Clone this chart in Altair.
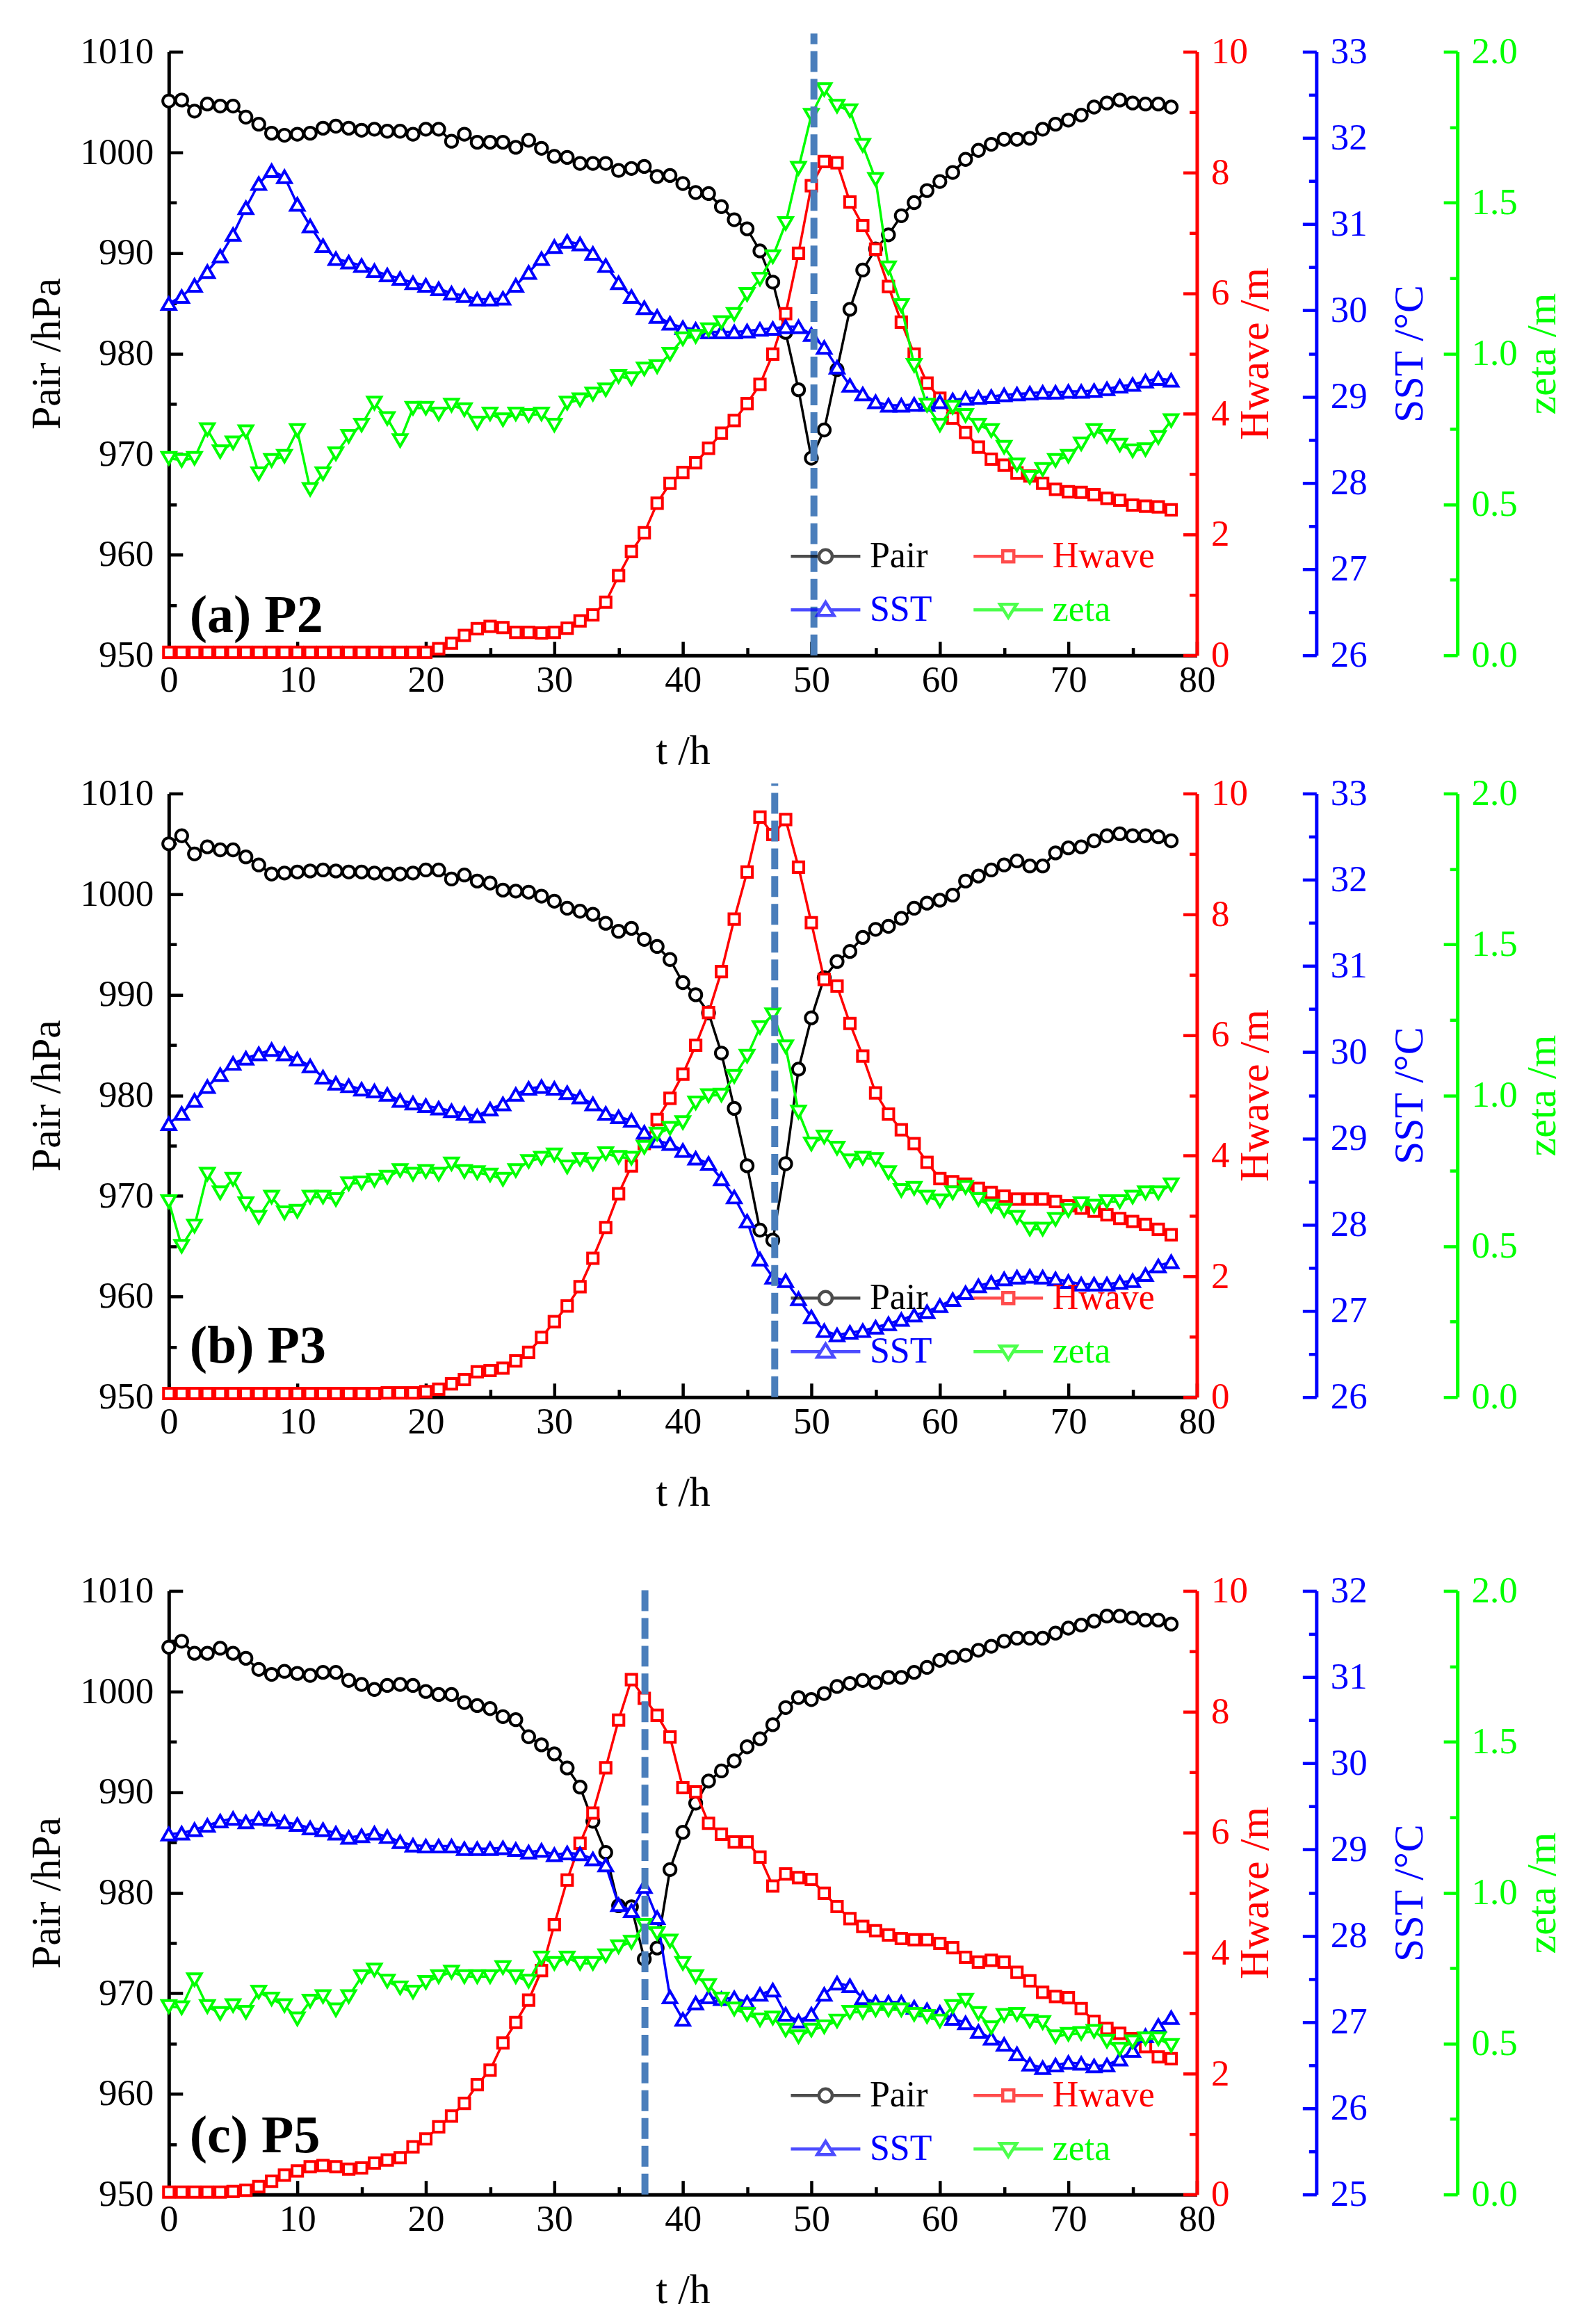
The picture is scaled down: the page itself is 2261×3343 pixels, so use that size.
import altair as alt
import pandas as pd

T = list(range(79))

A_PAIR = [1005.1, 1005.2, 1004.1, 1004.8, 1004.6, 1004.6, 1003.5, 1002.8, 1001.9, 1001.7,
          1001.8, 1001.9, 1002.4, 1002.6, 1002.4, 1002.2, 1002.3, 1002.1, 1002.1, 1001.8,
          1002.3, 1002.3, 1001.1, 1001.8, 1001.0, 1001.0, 1001.0, 1000.5, 1001.2, 1000.4,
          999.6, 999.5, 998.9, 998.9, 998.9, 998.2, 998.4, 998.6, 997.6, 997.7,
          996.9, 996.0, 995.9, 994.6, 993.3, 992.4, 990.2, 987.1, 982.1, 976.4,
          969.6, 972.4, 978.4, 984.4, 988.3, 990.4, 991.8, 993.7, 995.0, 996.2,
          997.1, 998.0, 999.3, 1000.2, 1000.8, 1001.3, 1001.3, 1001.4, 1002.3, 1002.8,
          1003.2, 1003.7, 1004.5, 1004.9, 1005.2, 1004.9, 1004.8, 1004.8, 1004.5]
A_HWAVE = [0.05] * 21 + [0.11, 0.20, 0.33, 0.44, 0.48, 0.46, 0.38, 0.38, 0.37,
          0.38, 0.45, 0.57, 0.67, 0.88, 1.32, 1.72, 2.03, 2.52, 2.85,
          3.03, 3.19, 3.43, 3.68, 3.89, 4.17, 4.49, 4.99, 5.66, 6.66,
          7.78, 8.18, 8.16, 7.51, 7.12, 6.73, 6.11, 5.52, 4.99, 4.51,
          4.26, 3.93, 3.69, 3.45, 3.25, 3.15, 3.02, 2.97, 2.85, 2.75,
          2.71, 2.70, 2.66, 2.60, 2.57, 2.49, 2.47, 2.46, 2.41]
A_SST = [30.08, 30.16, 30.29, 30.45, 30.63, 30.88, 31.19, 31.47, 31.62, 31.55,
         31.23, 30.98, 30.75, 30.60, 30.56, 30.52, 30.46, 30.41, 30.37, 30.32,
         30.29, 30.25, 30.20, 30.17, 30.13, 30.13, 30.14, 30.29, 30.44, 30.60,
         30.74, 30.80, 30.77, 30.66, 30.52, 30.32, 30.16, 30.03, 29.93, 29.85,
         29.80, 29.78, 29.75, 29.75, 29.75, 29.76, 29.78, 29.79, 29.81, 29.81,
         29.72, 29.57, 29.34, 29.13, 29.03, 28.94, 28.90, 28.90, 28.91, 28.91,
         28.94, 28.96, 28.98, 28.99, 29.00, 29.02, 29.03, 29.04, 29.05, 29.05,
         29.06, 29.06, 29.07, 29.09, 29.12, 29.14, 29.18, 29.21, 29.19]
A_ZETA = [0.653, 0.646, 0.653, 0.748, 0.675, 0.704, 0.741, 0.602, 0.646, 0.660,
          0.745, 0.550, 0.602, 0.668, 0.726, 0.763, 0.836, 0.785, 0.712, 0.819,
          0.819, 0.800, 0.829, 0.814, 0.770, 0.800, 0.781, 0.800, 0.795, 0.800,
          0.763, 0.836, 0.847, 0.866, 0.880, 0.924, 0.917, 0.949, 0.957, 0.998,
          1.049, 1.057, 1.079, 1.103, 1.130, 1.196, 1.247, 1.321, 1.431, 1.614,
          1.790, 1.875, 1.820, 1.805, 1.690, 1.577, 1.284, 1.159, 0.961, 0.829,
          0.763, 0.822, 0.795, 0.763, 0.745, 0.690, 0.631, 0.590, 0.616, 0.646,
          0.660, 0.701, 0.745, 0.726, 0.697, 0.678, 0.682, 0.722, 0.778]

B_PAIR = [1005.0, 1005.8, 1004.0, 1004.7, 1004.4, 1004.4, 1003.7, 1002.9, 1002.0, 1002.1,
          1002.2, 1002.3, 1002.4, 1002.3, 1002.2, 1002.2, 1002.1, 1002.0, 1002.0, 1002.1,
          1002.4, 1002.4, 1001.5, 1001.9, 1001.3, 1001.1, 1000.4, 1000.3, 1000.2, 999.8,
          999.3, 998.6, 998.3, 998.0, 997.1, 996.3, 996.6, 995.5, 994.8, 993.5,
          991.2, 990.0, 988.2, 984.2, 978.7, 973.0, 966.6, 965.6, 973.2, 982.6,
          987.7, 991.7, 993.3, 994.3, 995.7, 996.5, 996.8, 997.6, 998.6, 999.1,
          999.4, 999.9, 1001.3, 1001.8, 1002.4, 1002.9, 1003.3, 1002.8, 1002.8, 1004.1,
          1004.6, 1004.7, 1005.3, 1005.8, 1006.0, 1005.8, 1005.8, 1005.7, 1005.3]
B_HWAVE = [0.06] * 17 + [0.07, 0.07, 0.07,
          0.09, 0.13, 0.22, 0.29, 0.42, 0.44, 0.48, 0.60, 0.74, 0.99,
          1.25, 1.51, 1.83, 2.30, 2.81, 3.37, 3.83, 4.20, 4.60, 4.95,
          5.35, 5.83, 6.37, 7.05, 7.92, 8.70, 9.61, 9.32, 9.57, 8.78,
          7.86, 6.92, 6.81, 6.19, 5.65, 5.04, 4.69, 4.43, 4.20, 3.89,
          3.62, 3.57, 3.53, 3.46, 3.39, 3.33, 3.28, 3.28, 3.28, 3.24,
          3.17, 3.13, 3.08, 3.02, 2.96, 2.91, 2.86, 2.78, 2.69]
B_SST = [29.17, 29.29, 29.44, 29.60, 29.74, 29.87, 29.93, 29.98, 30.03, 29.98,
         29.92, 29.84, 29.71, 29.64, 29.61, 29.57, 29.55, 29.51, 29.44, 29.41,
         29.38, 29.35, 29.32, 29.29, 29.26, 29.34, 29.40, 29.51, 29.58, 29.60,
         29.58, 29.53, 29.48, 29.40, 29.29, 29.25, 29.21, 29.07, 28.97, 28.94,
         28.86, 28.77, 28.71, 28.53, 28.32, 28.04, 27.60, 27.39, 27.35, 27.14,
         26.93, 26.77, 26.72, 26.75, 26.77, 26.81, 26.85, 26.90, 26.95, 26.99,
         27.06, 27.13, 27.21, 27.29, 27.33, 27.37, 27.39, 27.40, 27.39, 27.37,
         27.34, 27.31, 27.31, 27.31, 27.33, 27.35, 27.42, 27.52, 27.57]
B_ZETA = [0.648, 0.500, 0.567, 0.739, 0.677, 0.722, 0.641, 0.596, 0.663, 0.611,
          0.616, 0.663, 0.663, 0.655, 0.707, 0.710, 0.719, 0.729, 0.751, 0.739,
          0.748, 0.739, 0.773, 0.748, 0.744, 0.736, 0.722, 0.751, 0.781, 0.792,
          0.803, 0.763, 0.788, 0.773, 0.807, 0.795, 0.792, 0.828, 0.872, 0.891,
          0.910, 0.975, 0.999, 1.001, 1.063, 1.130, 1.225, 1.267, 1.161, 0.945,
          0.839, 0.862, 0.825, 0.783, 0.792, 0.788, 0.744, 0.685, 0.692, 0.663,
          0.651, 0.677, 0.695, 0.655, 0.633, 0.619, 0.596, 0.557, 0.557, 0.589,
          0.619, 0.641, 0.633, 0.648, 0.648, 0.663, 0.677, 0.677, 0.704]

C_PAIR = [1004.4, 1005.0, 1003.8, 1003.8, 1004.3, 1003.8, 1003.3, 1002.2, 1001.7, 1002.0,
          1001.8, 1001.6, 1001.9, 1001.9, 1001.1, 1000.7, 1000.2, 1000.6, 1000.7, 1000.6,
          1000.0, 999.7, 999.7, 998.9, 998.6, 998.3, 997.5, 997.2, 995.5, 994.7,
          993.8, 992.4, 990.5, 987.1, 984.0, 978.7, 978.6, 973.4, 974.5, 982.3,
          986.0, 988.9, 991.1, 992.1, 993.1, 994.5, 995.3, 996.7, 998.4, 999.4,
          999.2, 999.8, 1000.5, 1000.8, 1001.1, 1000.9, 1001.4, 1001.4, 1001.9, 1002.4,
          1003.1, 1003.4, 1003.6, 1004.1, 1004.5, 1005.0, 1005.3, 1005.3, 1005.3, 1005.8,
          1006.3, 1006.6, 1007.0, 1007.5, 1007.5, 1007.3, 1007.1, 1007.1, 1006.7]
C_HWAVE = [0.04] * 5 + [0.05, 0.07, 0.13, 0.22, 0.32,
          0.39, 0.46, 0.48, 0.46, 0.42, 0.44, 0.52, 0.57, 0.61, 0.79,
          0.92, 1.12, 1.30, 1.51, 1.82, 2.06, 2.51, 2.85, 3.22, 3.71,
          4.47, 5.21, 5.82, 6.32, 7.07, 7.86, 8.53, 8.22, 7.94, 7.58,
          6.74, 6.67, 6.15, 5.97, 5.84, 5.84, 5.59, 5.11, 5.31, 5.25,
          5.22, 4.99, 4.77, 4.57, 4.44, 4.37, 4.30, 4.24, 4.22, 4.22,
          4.16, 4.09, 3.93, 3.85, 3.88, 3.85, 3.68, 3.54, 3.35, 3.28,
          3.26, 3.08, 2.87, 2.75, 2.67, 2.58, 2.45, 2.28, 2.25]
C_SST = [29.18, 29.19, 29.23, 29.28, 29.33, 29.36, 29.32, 29.36, 29.35, 29.32,
         29.29, 29.25, 29.23, 29.19, 29.14, 29.16, 29.19, 29.15, 29.09, 29.05,
         29.04, 29.04, 29.04, 29.01, 29.01, 29.01, 29.02, 29.00, 28.97, 28.99,
         28.94, 28.96, 28.95, 28.89, 28.82, 28.36, 28.29, 28.57, 28.21, 27.29,
         27.03, 27.22, 27.29, 27.27, 27.28, 27.23, 27.32, 27.37, 27.09, 27.01,
         27.09, 27.32, 27.45, 27.42, 27.28, 27.23, 27.23, 27.23, 27.17, 27.14,
         27.11, 27.04, 26.99, 26.89, 26.81, 26.74, 26.63, 26.51, 26.47, 26.50,
         26.53, 26.52, 26.49, 26.50, 26.57, 26.67, 26.84, 26.96, 27.05]
C_ZETA = [0.623, 0.619, 0.712, 0.623, 0.600, 0.626, 0.604, 0.671, 0.648, 0.626,
          0.582, 0.641, 0.656, 0.612, 0.656, 0.722, 0.744, 0.707, 0.685, 0.671,
          0.703, 0.722, 0.737, 0.722, 0.722, 0.722, 0.752, 0.722, 0.707, 0.784,
          0.766, 0.784, 0.766, 0.766, 0.791, 0.821, 0.836, 0.892, 0.865, 0.840,
          0.766, 0.722, 0.693, 0.648, 0.615, 0.597, 0.579, 0.585, 0.545, 0.523,
          0.545, 0.556, 0.575, 0.604, 0.604, 0.612, 0.612, 0.612, 0.597, 0.590,
          0.575, 0.623, 0.644, 0.600, 0.553, 0.594, 0.597, 0.575, 0.570, 0.523,
          0.531, 0.534, 0.541, 0.508, 0.482, 0.506, 0.516, 0.516, 0.494]

# storm passage time (dashed line) and its top end on the Pair scale
PASS_T = [50.2, 47.15, 37.05]
PASS_TOP = [1011.8, 1011.0, 1010.7]
PANEL_LABELS = ["(a) P2", "(b) P3", "(c) P5"]
LABEL_OFFSETS = [-262, -278, -289]
SST_RANGES = [[26, 33], [26, 33], [25, 32]]

NAMES = ["Pair", "Hwave", "SST", "zeta"]
COLORS = ["#000000", "#ff0000", "#0000ff", "#00ff00"]
LEGEND_SHAPES = [
    "M-1,0L-0.19,0M0.19,0L1,0M-0.19,0A0.19,0.19,0,1,1,0.19,0A0.19,0.19,0,1,1,-0.19,0Z",
    "M-1,0L-0.16,0M0.16,0L1,0M-0.16,-0.16L0.16,-0.16L0.16,0.16L-0.16,0.16Z",
    "M-1,0L-0.15,0M0.15,0L1,0M-0.24,0.16L0,-0.22L0.24,0.16Z",
    "M-1,0L-0.15,0M0.15,0L1,0M-0.24,-0.16L0,0.22L0.24,-0.16Z",
]

FONT = "Liberation Serif"
W, H = 1480, 869


def make_axis(title, color, values, major, fmt, orient, offset=0,
              title_x=0, title_y=0, title_angle=0, label_pad=40):
    test = f"abs(datum.value / {major} - round(datum.value / {major})) < 1e-6"
    return alt.Axis(
        title=title, orient=orient, offset=offset, values=values, format=fmt,
        labelExpr=f"{test} ? datum.label : ''",
        tickSize={"expr": f"{test} ? -20 : -11"},
        tickWidth=4.5, tickColor=color, domainColor=color, domainWidth=5,
        labelColor=color, titleColor=color,
        labelFont=FONT, labelFontSize=53, titleFont=FONT, titleFontSize=60,
        titleFontWeight="normal", labelPadding=label_pad, labelFlush=False,
        labelOverlap=False, grid=False,
        titleX=title_x, titleY=title_y, titleAngle=title_angle,
        titleBaseline="middle", titleAlign="center",
    )


def panel(i, pair, hwave, sst, zeta):
    df = pd.DataFrame({"t": T, "Pair": pair, "Hwave": hwave, "SST": sst, "zeta": zeta})
    xaxis = make_axis("t /h", "black", [5 * k for k in range(17)], 10, ".0f", "bottom",
                      title_x=W / 2, title_y=138, label_pad=30)
    x = alt.X("t:Q", scale=alt.Scale(domain=[0, 80], nice=False), axis=xaxis)
    lo, hi = SST_RANGES[i]
    axes = {
        "Pair": make_axis("Pair /hPa", "black", [950 + 5 * k for k in range(13)], 10, ".0f",
                          "left", title_x=-175, title_y=H / 2, title_angle=270, label_pad=42),
        "Hwave": make_axis("Hwave /m", "#ff0000", list(range(11)), 2, ".0f", "right",
                           title_x=84, title_y=H / 2, title_angle=270, label_pad=40),
        "SST": make_axis("SST /\u00b0C", "#0000ff", [lo + 0.5 * k for k in range(15)], 1, ".0f",
                         "right", offset=172, title_x=134, title_y=H / 2, title_angle=270,
                         label_pad=40),
        "zeta": make_axis("zeta /m", "#00ff00", [0.25 * k for k in range(9)], 0.5, ".1f",
                          "right", offset=375, title_x=122, title_y=H / 2, title_angle=270,
                          label_pad=40),
    }
    domains = {"Pair": [950, 1010], "Hwave": [0, 10], "SST": [lo, hi], "zeta": [0, 2]}
    shapes = {"Pair": ("circle", 300), "Hwave": ("square", 230),
              "SST": ("triangle-up", 380), "zeta": ("triangle-down", 380)}
    base = alt.Chart(df)
    layers = []
    for name, color in zip(NAMES, COLORS):
        shp, sz = shapes[name]
        layers.append(
            base.mark_line(
                color=color, strokeWidth=3.5,
                point=alt.OverlayMarkDef(shape=shp, size=sz, filled=True, fill="white",
                                         stroke=color, strokeWidth=4),
            ).encode(
                x=x,
                y=alt.Y(f"{name}:Q",
                        scale=alt.Scale(domain=domains[name], nice=False, zero=False),
                        axis=axes[name]),
            )
        )
    rule_df = pd.DataFrame({"t": [PASS_T[i]], "lo": [950], "hi": [PASS_TOP[i]]})
    rule = alt.Chart(rule_df).mark_rule(
        color="#4a7ebb", strokeWidth=10, strokeDash=[30, 10], clip=False
    ).encode(
        x=x,
        y=alt.Y("lo:Q", scale=alt.Scale(domain=[950, 1010], nice=False, zero=False), axis=None),
        y2="hi:Q",
    )
    legend = alt.Legend(
        title=None, orient="none", legendX=893, legendY=688, columns=2,
        direction="horizontal",
        columnPadding=57, rowPadding=0, clipHeight=77, padding=0,
        symbolSize=10000, symbolStrokeWidth=4.5, labelOffset=11,
        labelFont=FONT, labelFontSize=52,
        labelColor={"expr": "datum.label == 'Pair' ? '#000000' : datum.label == 'Hwave' ? '#ff0000' : datum.label == 'SST' ? '#0000ff' : '#00ff00'"},
    )
    leg_df = pd.DataFrame({"series": NAMES})
    leg = alt.Chart(leg_df).transform_filter("datum.series == 'none'").mark_point(
        filled=False, size=10000, strokeWidth=4.5
    ).encode(
        color=alt.Color("series:N", scale=alt.Scale(domain=NAMES, range=COLORS), legend=legend),
        shape=alt.Shape("series:N", scale=alt.Scale(domain=NAMES, range=LEGEND_SHAPES), legend=legend),
    )
    return alt.layer(*layers, rule, leg).resolve_scale(y="independent").properties(
        width=W, height=H,
        title=alt.TitleParams(
            text=PANEL_LABELS[i], orient="bottom", anchor="start", frame="group",
            offset=LABEL_OFFSETS[i], dx=30, font=FONT, fontSize=76, fontWeight="bold",
            color="black",
        ),
    )


pa = panel(0, A_PAIR, A_HWAVE, A_SST, A_ZETA)
pb = panel(1, B_PAIR, B_HWAVE, B_SST, B_ZETA)
pc = panel(2, C_PAIR, C_HWAVE, C_SST, C_ZETA)

top = alt.vconcat(pa, pb, spacing=5).resolve_scale(color="independent", shape="independent")
chart = alt.vconcat(top, pc, spacing=85).resolve_scale(
    color="independent", shape="independent"
).properties(
    padding={"left": 30, "top": 33, "right": 5, "bottom": 5}
).configure(
    font=FONT
).configure_legend(
    labelFont=FONT, labelFontSize=52
).configure_view(stroke=None)

chart.save("out.html", embed_options={"renderer": "svg", "actions": False})
